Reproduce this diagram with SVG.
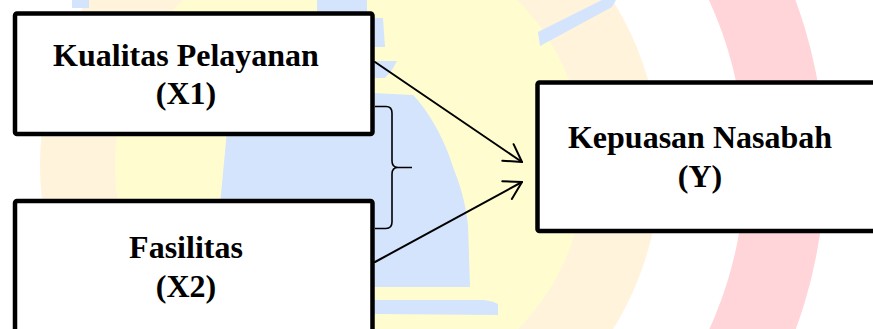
<svg xmlns="http://www.w3.org/2000/svg" width="873" height="329" viewBox="0 0 873 329">
  <defs>
    <style>
      .box { fill: #ffffff; stroke: #000000; stroke-width: 4.5; stroke-linejoin: round; }
      .lbl { font-family: "Liberation Serif", "Times New Roman", serif; font-weight: bold; font-size: 32px; fill: #000000; text-anchor: middle; }
      .conn { fill: none; stroke: #000000; stroke-width: 2; stroke-linecap: round; stroke-linejoin: round; }
      .brace { fill: none; stroke: #000000; stroke-width: 1.6; stroke-linejoin: round; }
      .wblue { fill: #d4e4fc; }
    </style>
    <marker id="ah" markerUnits="userSpaceOnUse" viewBox="-20 -12 24 24" refX="0" refY="0" markerWidth="24" markerHeight="24" orient="auto" overflow="visible">
      <path d="M-17,-10 L0,0 L-17,10" fill="none" stroke="#000000" stroke-width="2" stroke-linecap="round" stroke-linejoin="round"/>
    </marker>
  </defs>

  <g id="background">
    <rect x="0" y="0" width="873" height="329" fill="#ffffff"/>
    <circle cx="350" cy="165" r="475" fill="#ffd5d9"/>
    <circle cx="350" cy="165" r="395" fill="#ffffff"/>
    <circle cx="350" cy="165" r="310" fill="#fff3dc"/>
    <circle cx="350" cy="165" r="235" fill="#fffdd0"/>
    <path class="wblue" d="M228,120 L373,120 L373,93 L413,95 C428,110 445,140 453,167 C460,185 465,200 468,225 L470,287 L373,287 L373,205 L220,205 Z"/>
    <path class="wblue" d="M373,61 L397,61 L392,70 L385,78 L373,78 Z"/>
    <path class="wblue" d="M372,18 L383,18 L385,47 L372,47 Z"/>
    <path class="wblue" d="M317,0 L367,0 L367,12 L317,12 Z"/>
    <path class="wblue" d="M72,0 L89,0 L89,8 L72,8 Z"/>
    <path class="wblue" d="M373,300 L480,300 C488,300 494,302 498,304 L498,315 L373,314 Z"/>
    <polygon class="wblue" points="538,32 602,0 616,0 612,7 540,46"/>
  </g>

  <g id="connectors">
    <path class="conn" d="M375,62 L522,162" marker-end="url(#ah)"/>
    <path class="conn" d="M375,262 L522,182" marker-end="url(#ah)"/>
    <path class="brace" d="M375,106.5 L386,106.5 Q392,106.5 392,113 L392,161 Q392,167.5 398,167.5 L412,167.5 M398,167.5 Q392,167.5 392,174 L392,222 Q392,228.5 386,228.5 L375,228.5"/>
  </g>

  <g id="node-x1">
    <rect class="box" x="15" y="13.5" width="357.5" height="120.5" rx="2"/>
    <text class="lbl" x="186" y="66">Kualitas Pelayanan</text>
    <text class="lbl" x="186" y="104">(X1)</text>
  </g>

  <g id="node-x2">
    <rect class="box" x="15" y="201" width="357.5" height="150" rx="2"/>
    <text class="lbl" x="186" y="258">Fasilitas</text>
    <text class="lbl" x="186" y="297">(X2)</text>
  </g>

  <g id="node-y">
    <rect class="box" x="537.5" y="82.5" width="360" height="148.5" rx="2"/>
    <text class="lbl" x="700" y="148">Kepuasan Nasabah</text>
    <text class="lbl" x="700" y="187">(Y)</text>
  </g>
</svg>
